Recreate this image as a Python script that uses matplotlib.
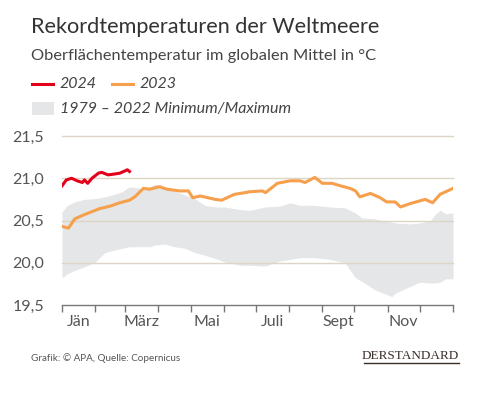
import matplotlib
matplotlib.use("Agg")
import matplotlib.pyplot as plt
from matplotlib.patches import Rectangle
from matplotlib.lines import Line2D

# ---- data (day of year, °C) ----
days_2023 = [0, 6, 12, 21, 35, 45, 54, 63, 68, 76, 82, 91, 98, 110, 118, 122, 129, 143, 149,
             161, 171, 175, 187, 190, 201, 213, 222, 227, 236, 243, 252, 260, 269, 274, 278,
             288, 297, 303, 311, 316, 325, 339, 346, 353, 365]
temp_2023 = [20.43, 20.41, 20.52, 20.57, 20.64, 20.67, 20.71, 20.74, 20.78, 20.88, 20.87, 20.90,
             20.87, 20.85, 20.85, 20.77, 20.79, 20.75, 20.74, 20.81, 20.83, 20.84, 20.85, 20.83,
             20.94, 20.97, 20.97, 20.95, 21.01, 20.94, 20.94, 20.91, 20.88, 20.85, 20.78, 20.82,
             20.77, 20.72, 20.72, 20.66, 20.70, 20.75, 20.71, 20.81, 20.88]

days_2024 = [0, 4, 9, 14, 19, 21, 24, 28, 34, 37, 43, 49, 54, 61, 63]
temp_2024 = [20.91, 20.98, 21.00, 20.97, 20.95, 20.98, 20.94, 21.00, 21.06, 21.07, 21.04,
             21.05, 21.06, 21.10, 21.08]

days_band = [0, 5, 12, 21, 31, 40, 49, 56, 63, 73, 82, 87, 96, 105, 115, 124, 133, 143, 152,
             166, 175, 190, 203, 213, 222, 236, 250, 264, 274, 280, 292, 302, 308, 311, 325,
             334, 344, 348, 353, 358, 365]
band_max = [20.60, 20.68, 20.72, 20.75, 20.76, 20.78, 20.81, 20.84, 20.90, 20.88, 20.90, 20.93,
            20.88, 20.85, 20.80, 20.76, 20.68, 20.66, 20.66, 20.63, 20.62, 20.66, 20.67, 20.71,
            20.68, 20.68, 20.66, 20.65, 20.59, 20.53, 20.52, 20.49, 20.48, 20.47, 20.46, 20.47,
            20.50, 20.57, 20.62, 20.58, 20.59]
band_min = [19.82, 19.87, 19.91, 19.95, 20.01, 20.12, 20.15, 20.17, 20.19, 20.19, 20.19, 20.21,
            20.22, 20.19, 20.17, 20.12, 20.09, 20.05, 20.01, 19.97, 19.97, 19.96, 20.02, 20.04,
            20.06, 20.06, 20.04, 20.00, 19.82, 19.78, 19.68, 19.63, 19.60, 19.64, 19.72, 19.77,
            19.76, 19.76, 19.77, 19.81, 19.81]

month_edges = [0, 31, 59, 90, 120, 151, 181, 212, 243, 273, 304, 334, 365]
month_labels = ["Jän", "", "März", "", "Mai", "", "Juli", "", "Sept", "", "Nov", ""]
yticks = [19.5, 20.0, 20.5, 21.0, 21.5]
ytick_labels = ["19,5", "20,0", "20,5", "21,0", "21,5"]

FONT = "Lato"
GRAY_TXT = "#555555"
C2024 = "#e3001b"
C2023 = "#f6a04d"
CBAND = "#e5e6e7"
CGRID = "#ddd5c6"

fig = plt.figure(figsize=(5.0, 3.96), dpi=100)
ax = fig.add_axes([62 / 500, 1 - 305 / 396, (453 - 62) / 500, (305 - 136) / 396])

ax.fill_between(days_band, band_min, band_max, color=CBAND, lw=0, zorder=1)
for y in yticks[1:]:
    ax.axhline(y, color=CGRID, lw=1.0, zorder=2, clip_on=False)
ax.plot(days_2023, temp_2023, color=C2023, lw=2.2, zorder=3, solid_joinstyle="round")
ax.plot(days_2024, temp_2024, color=C2024, lw=2.2, zorder=4, solid_joinstyle="round")

ax.set_xlim(0, 365)
ax.set_ylim(19.5, 21.5)
for s in ["top", "right", "left"]:
    ax.spines[s].set_visible(False)
ax.spines["bottom"].set_color("#777777")
ax.spines["bottom"].set_linewidth(1.0)

ax.set_yticks(yticks)
ax.set_yticklabels(ytick_labels, fontsize=11.5, color=GRAY_TXT, family=FONT)
ax.tick_params(axis="y", length=0, pad=13)

ax.set_xticks(month_edges)
ax.set_xticklabels([])
ax.tick_params(axis="x", length=5, width=1.0, color="#777777", direction="out")
centers = [(month_edges[i] + month_edges[i + 1]) / 2 for i in range(12)]
ax.set_xticks(centers, minor=True)
ax.set_xticklabels(month_labels, minor=True, fontsize=11.5, color=GRAY_TXT, family=FONT)
ax.tick_params(axis="x", which="minor", length=0, pad=7)

# ---- titles ----
fig.text(31 / 500, 1 - 33 / 396, "Rekordtemperaturen der Weltmeere", fontsize=15.6,
         color="#333333", family=FONT, va="baseline", ha="left")
fig.text(31 / 500, 1 - 60 / 396, "Oberflächentemperatur im globalen Mittel in °C",
         fontsize=11.8, color="#444444", family=FONT, va="baseline", ha="left")

# ---- legend ----
fig.add_artist(Line2D([32 / 500, 53 / 500], [1 - 84 / 396] * 2, color=C2024, lw=2.2))
fig.text(60 / 500, 1 - 84 / 396, "2024", fontsize=11.5, style="italic", color="#444444",
         family=FONT, va="center", ha="left")
fig.add_artist(Line2D([112 / 500, 133 / 500], [1 - 84 / 396] * 2, color=C2023, lw=2.2))
fig.text(140 / 500, 1 - 84 / 396, "2023", fontsize=11.5, style="italic", color="#444444",
         family=FONT, va="center", ha="left")
fig.add_artist(Rectangle((32 / 500, 1 - 115 / 396), 22 / 500, 13 / 396, color=CBAND,
                         transform=fig.transFigure, lw=0))
fig.text(60 / 500, 1 - 108.5 / 396, "1979 – 2022 Minimum/Maximum", fontsize=11.5,
         style="italic", color="#444444", family=FONT, va="center", ha="left")

# ---- footer ----
fig.text(31 / 500, 1 - 358 / 396, "Grafik: © APA, Quelle: Copernicus", fontsize=7.1,
         color=GRAY_TXT, family=FONT, va="center", ha="left")
fig.text(459 / 500, 1 - 356 / 396, "DERSTANDARD", fontsize=9.5, color="#3b2f2a",
         family="Liberation Serif", va="center", ha="right")
fig.add_artist(Line2D([364 / 500, 459 / 500], [1 - 363 / 396] * 2, color="#3b2f2a", lw=1.0))

fig.savefig("out.png", dpi=100, facecolor="white")
